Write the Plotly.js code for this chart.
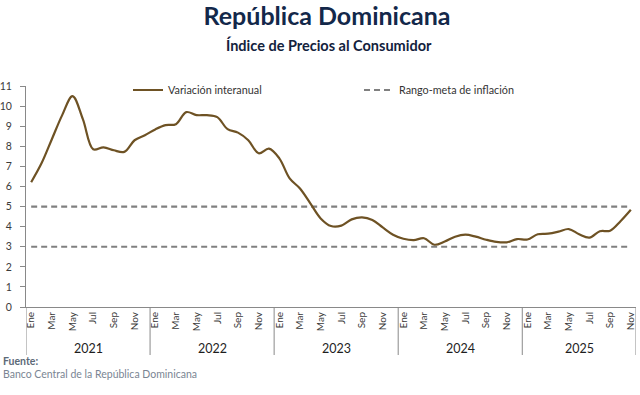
<!DOCTYPE html>
<html>
<head>
<meta charset="utf-8">
<script src="https://cdn.plot.ly/plotly-3.0.1.min.js"></script>
<style>
  html, body { margin: 0; padding: 0; background: #ffffff; }
  #chart { width: 640px; height: 395px; }
</style>
</head>
<body>
<div id="chart"></div>
<script>
// ---- Data ----
const years = ['2021', '2022', '2023', '2024', '2025'];
const monthTickLabels = ['Ene', 'Mar', 'May', 'Jul', 'Sep', 'Nov'];

// Variación interanual del IPC (%), Ene 2021 - Nov 2025
const inflation2021 = [6.21, 7.15, 8.35, 9.55, 10.5, 9.35, 7.85, 7.95, 7.8, 7.72, 8.3, 8.55];
const inflation2022 = [8.84, 9.05, 9.1, 9.7, 9.55, 9.55, 9.45, 8.85, 8.68, 8.3, 7.65, 7.88];
const inflation2023 = [7.4, 6.4, 5.9, 5.16, 4.41, 4.03, 4.05, 4.36, 4.46, 4.33, 3.96, 3.6];
const inflation2024 = [3.4, 3.33, 3.42, 3.1, 3.26, 3.5, 3.6, 3.5, 3.35, 3.24, 3.22, 3.38];
const inflation2025 = [3.36, 3.62, 3.65, 3.75, 3.88, 3.62, 3.45, 3.77, 3.8, 4.27, 4.84];

// Rango-meta de inflación (%)
const metaUpper = 5;
const metaLower = 3;

const seriesName = 'Variación interanual';
const metaName = 'Rango-meta de inflación';
const titleText = 'República Dominicana';
const subtitleText = 'Índice de Precios al Consumidor';
const sourceLabel = 'Fuente:';
const sourceText = 'Banco Central de la República Dominicana';

// ---- Build ----
const inflation = [].concat(inflation2021, inflation2022, inflation2023, inflation2024, inflation2025);
const n = inflation.length;
const xIdx = inflation.map((_, i) => i);

const tickvals = [];
const ticktext = [];
years.forEach((y, yi) => {
  monthTickLabels.forEach((m, mi) => {
    const pos = yi * 12 + mi * 2;
    if (pos < n) { tickvals.push(pos); ticktext.push(m); }
  });
});

const FONT = 'Lato, "Open Sans", "DejaVu Sans", sans-serif';
const AXIS_COLOR = '#898989';

// plot geometry (pixels) for paper-coordinate helpers
const W = 640, H = 395;
const M = { l: 26, r: 4, t: 86, b: 88 };
const plotW = W - M.l - M.r;
const plotH = H - M.t - M.b;
const px2paperX = px => (px - M.l) / plotW;
const px2paperY = py => (H - M.b - py) / plotH;

const traces = [
  {
    x: xIdx, y: inflation.map(() => metaUpper),
    type: 'scatter', mode: 'lines', name: metaName, legendgroup: 'meta',
    line: { color: '#808080', width: 2.2, dash: '6px,4px' },
    hoverinfo: 'skip'
  },
  {
    x: xIdx, y: inflation.map(() => metaLower),
    type: 'scatter', mode: 'lines', name: metaName, legendgroup: 'meta', showlegend: false,
    line: { color: '#808080', width: 2.2, dash: '6px,4px' },
    hoverinfo: 'skip'
  },
  {
    x: xIdx, y: inflation,
    type: 'scatter', mode: 'lines', name: seriesName,
    line: { color: '#6e5224', width: 2.2, shape: 'spline', smoothing: 1 }
  }
];

// year separators and labels below the axis
const shapes = [];
const annotations = [];
const boundaries = [-0.5];
years.forEach((y, yi) => {
  const start = yi * 12;
  const end = Math.min(start + 11, n - 1);
  boundaries.push(end + 0.5);
  annotations.push({
    xref: 'x', yref: 'paper', x: (start + end) / 2, y: px2paperY(348),
    text: y, showarrow: false, xanchor: 'center', yanchor: 'middle',
    font: { family: FONT, size: 12.5, color: '#1e1e1e' }
  });
});
boundaries.forEach(b => {
  shapes.push({
    type: 'line', xref: 'x', yref: 'paper', x0: b, x1: b,
    y0: 0, y1: px2paperY(355),
    line: { color: AXIS_COLOR, width: 1 }
  });
});

annotations.push({
  xref: 'paper', yref: 'paper', x: px2paperX(329), y: px2paperY(45),
  text: '<b>' + subtitleText + '</b>', showarrow: false,
  xanchor: 'center', yanchor: 'middle',
  font: { family: FONT, size: 14.5, color: '#13223d' }
});
annotations.push({
  xref: 'paper', yref: 'paper', x: px2paperX(1), y: px2paperY(361),
  text: '<b>' + sourceLabel + '</b>', showarrow: false,
  xanchor: 'left', yanchor: 'middle',
  font: { family: FONT, size: 10.5, color: '#5d6a78' }
});
annotations.push({
  xref: 'paper', yref: 'paper', x: px2paperX(1), y: px2paperY(374),
  text: sourceText, showarrow: false,
  xanchor: 'left', yanchor: 'middle',
  font: { family: FONT, size: 10.5, color: '#7a8593' }
});

const layout = {
  width: W, height: H,
  margin: M,
  paper_bgcolor: '#ffffff', plot_bgcolor: '#ffffff',
  font: { family: FONT, color: '#333333' },
  title: {
    text: '<b>' + titleText + '</b>',
    xref: 'container', yref: 'container',
    x: 327 / W, y: 1 - 16.5 / H, xanchor: 'center', yanchor: 'middle',
    font: { family: FONT, size: 25, color: '#13284a' }
  },
  showlegend: true,
  legend: {
    orientation: 'h', xref: 'paper', yref: 'paper',
    x: px2paperX(128), y: px2paperY(90), xanchor: 'left', yanchor: 'middle',
    traceorder: 'reversed',
    entrywidth: 186, entrywidthmode: 'pixels',
    font: { family: FONT, size: 10.8, color: '#333333' },
    bgcolor: 'rgba(0,0,0,0)'
  },
  xaxis: {
    range: [-0.5, n - 0.5],
    tickmode: 'array', tickvals: tickvals, ticktext: ticktext,
    tickangle: -90, ticks: '',
    showline: true, linecolor: AXIS_COLOR, linewidth: 1,
    showgrid: false, zeroline: false,
    tickfont: { family: FONT, size: 10, color: '#3a3a3a' },
    fixedrange: true
  },
  yaxis: {
    range: [0, 11], tick0: 0, dtick: 1,
    ticks: 'outside', ticklen: 5, tickcolor: AXIS_COLOR, tickwidth: 1,
    ticklabelstandoff: 6,
    showline: true, linecolor: AXIS_COLOR, linewidth: 1,
    showgrid: false, zeroline: false,
    tickfont: { family: FONT, size: 10.5, color: '#3a3a3a' },
    fixedrange: true
  },
  shapes: shapes,
  annotations: annotations
};

Plotly.newPlot('chart', traces, layout, { displayModeBar: false, staticPlot: true });
</script>
</body>
</html>
